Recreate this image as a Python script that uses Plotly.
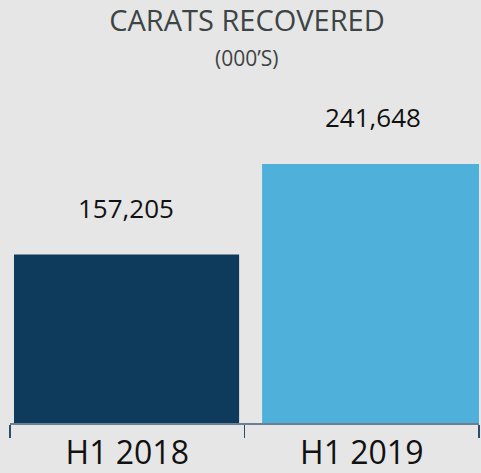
import plotly.graph_objects as go

categories = ["H1 2018", "H1 2019"]
values = [157205, 241648]
value_labels = ["157,205", "241,648"]
bar_colors = ["#0e3a5c", "#4fb0d9"]

FONT = "Open Sans"
BG = "#e6e6e6"

W, H = 481, 473

fig = go.Figure()
fig.add_trace(go.Bar(
    x=categories,
    y=values,
    marker=dict(color=bar_colors, line=dict(width=0)),
    width=0.96,
    offset=[-0.483, -0.425],
    hoverinfo="skip",
))

xshifts = [-1, 11]
for c, v, lab, xs in zip(categories, values, value_labels, xshifts):
    fig.add_annotation(
        x=c, y=v, xref="x", yref="y",
        text=lab, showarrow=False,
        yanchor="middle", xanchor="center",
        yshift=47, xshift=xs,
        font=dict(family=FONT, size=26, color="#111111"),
    )

fig.add_annotation(
    x=237 / 469, xref="paper", y=1 + 32 / 333, yref="paper",
    text="(000’S)", showarrow=False,
    xanchor="center", yanchor="middle",
    font=dict(family=FONT, size=21, color="#3d4444"),
)

fig.update_layout(
    width=W, height=H,
    margin=dict(l=10, r=2, t=90, b=50, pad=0),
    paper_bgcolor=BG, plot_bgcolor=BG,
    showlegend=False,
    title=dict(
        text="CARATS RECOVERED",
        x=247 / W, xanchor="center", xref="container",
        y=1 - 21 / H, yanchor="middle", yref="container",
        font=dict(family=FONT, size=29, color="#3d4444"),
    ),
    xaxis=dict(
        type="category",
        range=[-0.5, 1.5],
        showline=True, linecolor="#6b8094", linewidth=1.5,
        ticks="outside", tickson="boundaries", ticklen=13,
        tickcolor="#2c4d6b", tickwidth=1.5,
        ticklabelstandoff=1,
        tickfont=dict(family=FONT, size=32, color="#111111"),
        showgrid=False, zeroline=False,
        automargin=False,
        fixedrange=True,
    ),
    yaxis=dict(
        range=[0, 310700],
        visible=False, showgrid=False, zeroline=False,
        fixedrange=True,
    ),
)

# remove the page's default body margin so the figure fills the window exactly
fig.write_html(
    "out.html",
    config={"displayModeBar": False, "staticPlot": True},
    post_script="document.body.style.margin='0px';",
)
